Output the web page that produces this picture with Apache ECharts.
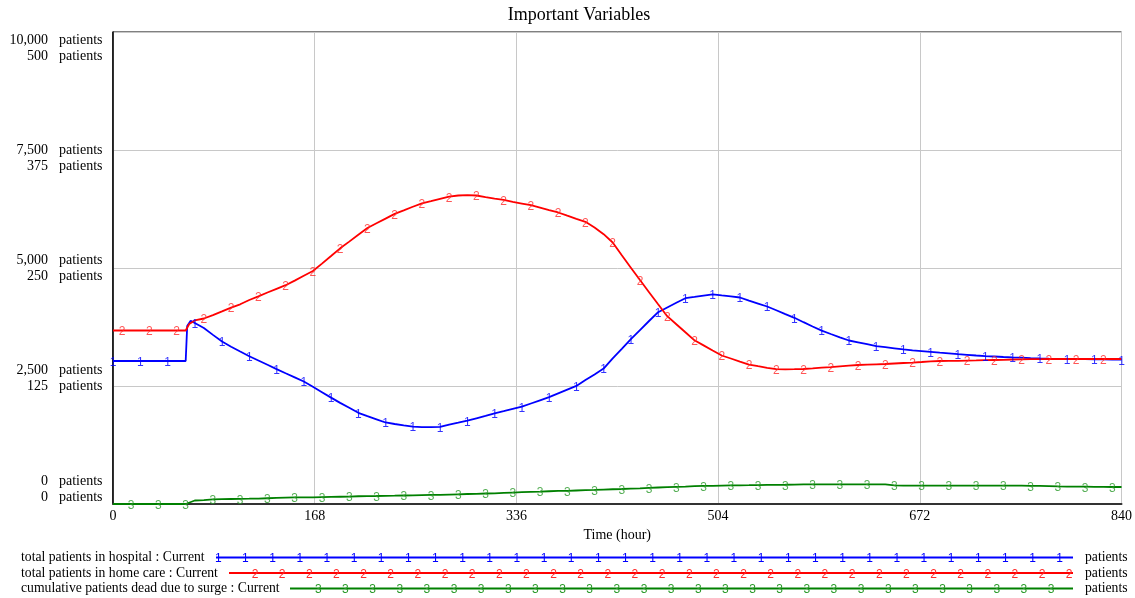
<!DOCTYPE html>
<html>
<head>
<meta charset="utf-8">
<script src="https://cdn.jsdelivr.net/npm/echarts@6/dist/echarts.min.js"></script>
<style>
  html, body { margin: 0; padding: 0; background: #fff; }
  #chart { width: 1135px; height: 598px; }
</style>
</head>
<body>
<div id="chart"></div>
<script>
// Simulation output, saved every 840/111 hours (112 saves over the run)
const hours = Array.from({ length: 112 }, (_, i) => +(i * 840 / 111).toFixed(3));

const hospital = [
  3030, 3030, 3030, 3030, 3030, 3030, 3030, 3030, 3030,
  3835, 3727, 3583, 3441, 3333, 3231, 3131, 3040, 2949, 2858,
  2769, 2682, 2595, 2483, 2369, 2254, 2142, 2038, 1932, 1860,
  1794, 1727, 1695, 1667, 1640, 1627, 1627, 1636, 1680, 1722,
  1765, 1816, 1866, 1919, 1966, 2015, 2061, 2129, 2197, 2265,
  2345, 2424, 2502, 2625, 2746, 2869, 3087, 3288, 3491, 3684,
  3877, 4063, 4163, 4263, 4360, 4388, 4417, 4443, 4419, 4398,
  4375, 4307, 4246, 4184, 4104, 4023, 3945, 3852, 3761, 3674,
  3602, 3532, 3464, 3426, 3386, 3343, 3322, 3299, 3275, 3256,
  3239, 3222, 3205, 3191, 3174, 3161, 3146, 3133, 3125, 3114,
  3106, 3100, 3091, 3085, 3080, 3076, 3072, 3070, 3068, 3066,
  3063, 3061, 3057
];

const homeCare = [
  3676, 3676, 3676, 3676, 3676, 3676, 3676, 3676, 3676,
  3888, 3930, 4002, 4080, 4161, 4231, 4322, 4400, 4481, 4559,
  4636, 4733, 4835, 4936, 5093, 5254, 5417, 5559, 5705, 5847,
  5947, 6047, 6146, 6220, 6297, 6371, 6417, 6464, 6510, 6536,
  6546, 6536, 6500, 6470, 6441, 6402, 6366, 6330, 6280, 6227,
  6176, 6108, 6042, 5979, 5858, 5716, 5540, 5269, 5006, 4744,
  4487, 4231, 3979, 3809, 3638, 3468, 3360, 3252, 3146, 3083,
  3015, 2953, 2919, 2886, 2858, 2854, 2856, 2860, 2873, 2888,
  2902, 2917, 2932, 2945, 2953, 2960, 2966, 2977, 2987, 2996,
  3008, 3021, 3030, 3032, 3034, 3038, 3042, 3047, 3051, 3055,
  3061, 3066, 3068, 3070, 3072, 3072, 3072, 3072, 3072, 3072,
  3072, 3072, 3072
];

const dead = [
  0, 0, 0, 0, 0, 0, 0, 0, 0,
  3.7, 4.2, 4.9, 5.1, 5.3, 5.5, 5.6, 5.8, 6.1, 6.4,
  6.7, 7.0, 7.0, 7.1, 7.3, 7.5, 7.7, 7.9, 8.2, 8.4,
  8.5, 8.7, 8.8, 9.0, 9.2, 9.4, 9.6, 9.7, 10.0, 10.3,
  10.6, 10.8, 11.1, 11.3, 11.7, 12.1, 12.5, 12.8, 13.1, 13.5,
  13.8, 14.0, 14.3, 14.6, 14.9, 15.3, 15.6, 15.9, 16.3, 16.6,
  17.1, 17.5, 17.9, 18.2, 18.5, 18.9, 19.1, 19.3, 19.5, 19.7,
  19.8, 19.9, 20.1, 20.2, 20.3, 20.4, 20.6, 20.7, 20.7, 20.8,
  20.8, 20.8, 20.8, 20.8, 20.8, 20.8, 20.8, 19.7, 19.5, 19.5,
  19.5, 19.5, 19.5, 19.5, 19.5, 19.5, 19.5, 19.5, 19.5, 19.5,
  19.5, 19.5, 19.3, 19.1, 18.9, 18.6, 18.5, 18.4, 18.3, 18.2,
  18.1, 18.0, 18.0
];

// Extra values around the surge step at t ~ 60 h
const hospitalStepHours = [61.8, 64.7];
const hospitalStepValues = [3771, 3883];
const homeCareStepHours = [63.5];
const homeCareStepValues = [3813];

const timeTicks = [0, 168, 336, 504, 672, 840];
const patientTickValues = [10000, 7500, 5000, 2500, 0];
const patientTickLabels = ['10,000', '7,500', '5,000', '2,500', '0'];
const deadTickLabels = ['500', '375', '250', '125', '0'];
const unitLabel = 'patients';

const seriesNames = [
  'total patients in hospital : Current',
  'total patients in home care : Current',
  'cumulative patients dead due to surge : Current'
];
const seriesColors = ['#0000ff', '#ff0000', '#008000'];
const markerColors = ['#0000ff', '#ff2a2a', '#2a9a2a'];
const markerDigits = ['1', '2', '3'];

const SERIF = '"Liberation Serif", "Times New Roman", serif';
const SANS = '"Liberation Sans", Arial, sans-serif';

function pairs(xs, ys) { return xs.map((x, i) => [x, ys[i]]); }
function withExtra(base, exH, exV) {
  return base.concat(pairs(exH, exV)).sort((a, b) => a[0] - b[0]);
}

const lineData = [
  withExtra(pairs(hours, hospital), hospitalStepHours, hospitalStepValues),
  withExtra(pairs(hours, homeCare), homeCareStepHours, homeCareStepValues),
  pairs(hours, dead)
];
// Each curve carries its digit on every third save, offset by one save per curve
const markerData = [hospital, homeCare, dead].map((vals, s) =>
  pairs(hours, vals).filter((_, i) => i % 3 === s && (s === 0 || i < 111))
);

const chart = echarts.init(document.getElementById('chart'), null, { renderer: 'canvas' });

const series = [];
for (let s = 0; s < 3; s++) {
  series.push({
    name: seriesNames[s],
    type: 'line',
    yAxisIndex: s === 2 ? 1 : 0,
    data: lineData[s],
    showSymbol: false,
    smooth: false,
    lineStyle: { color: seriesColors[s], width: 1.8 },
    z: 3,
    silent: true
  });
  series.push({
    name: seriesNames[s] + ' marks',
    type: 'scatter',
    yAxisIndex: s === 2 ? 1 : 0,
    data: markerData[s],
    symbolSize: 1,
    itemStyle: { color: 'transparent' },
    label: {
      show: true,
      position: 'inside',
      offset: [0, 1.5],
      formatter: markerDigits[s],
      color: markerColors[s],
      fontFamily: SANS,
      fontSize: 12
    },
    z: 4,
    silent: true
  });
}

chart.setOption({
  animation: false,
  backgroundColor: '#fff',
  title: {
    text: 'Important Variables',
    left: 574,
    top: 1,
    textAlign: 'center',
    textStyle: { fontFamily: SERIF, fontSize: 18, fontWeight: 'normal', color: '#000' }
  },
  grid: {
    left: 113, right: 13, top: 32, bottom: 94,
    show: true, borderColor: '#000', borderWidth: 1
  },
  xAxis: {
    type: 'value',
    min: timeTicks[0],
    max: timeTicks[timeTicks.length - 1],
    interval: timeTicks[1] - timeTicks[0],
    name: 'Time (hour)',
    nameLocation: 'middle',
    nameGap: 19,
    nameTextStyle: { fontFamily: SERIF, fontSize: 14, color: '#000' },
    axisLine: { lineStyle: { color: '#333', width: 2 } },
    axisTick: { show: false },
    axisLabel: { fontFamily: SERIF, fontSize: 14, color: '#000', margin: 5 },
    splitLine: { show: true, lineStyle: { color: '#c8c8c8', width: 1 } }
  },
  yAxis: [
    {
      type: 'value',
      min: 0, max: 10000, interval: 2500,
      axisLine: { show: true, lineStyle: { color: '#000', width: 1.5 } },
      axisTick: { show: false },
      axisLabel: { show: false },
      splitLine: { show: true, lineStyle: { color: '#c8c8c8', width: 1 } }
    },
    {
      type: 'value',
      min: 0, max: 500, interval: 125,
      show: false,
      splitLine: { show: false }
    }
  ],
  series: series
});

// Stacked left-hand scale labels: one pair per gridline, spread so the
// top and bottom pairs stay inside the plot frame
const graphics = [];
const yTop = chart.convertToPixel({ yAxisIndex: 0 }, patientTickValues[0]);
const yBot = chart.convertToPixel({ yAxisIndex: 0 }, patientTickValues[patientTickValues.length - 1]);
const firstY = yTop + 8, lastY = yBot - 23;
const n = patientTickLabels.length;
const lbl = { fontFamily: SERIF, fontSize: 14, fill: '#000', verticalAlign: 'middle' };
for (let k = 0; k < n; k++) {
  const y = firstY + k * (lastY - firstY) / (n - 1);
  [[patientTickLabels[k], y], [deadTickLabels[k], y + 16]].forEach(([t, yy]) => {
    graphics.push({ type: 'text', x: 48, y: yy, style: Object.assign({ text: t, align: 'right' }, lbl) });
    graphics.push({ type: 'text', x: 59, y: yy, style: Object.assign({ text: unitLabel, align: 'left' }, lbl) });
  });
}

// Key below the plot: name, sample line with digits, unit
const keyLbl = Object.assign({}, lbl, { fontSize: 13.7 });
const keyRows = [
  { y: 557.5, lineStart: 216, firstMark: 218.3, marks: 32 },
  { y: 573, lineStart: 229, firstMark: 255, marks: 31 },
  { y: 588.5, lineStart: 290, firstMark: 318.3, marks: 28 }
];
const keyLineEnd = 1073, markGap = 27.14;
keyRows.forEach((row, s) => {
  graphics.push({ type: 'text', x: 21, y: row.y, style: Object.assign({ text: seriesNames[s], align: 'left' }, keyLbl) });
  graphics.push({
    type: 'line',
    shape: { x1: row.lineStart, y1: row.y, x2: keyLineEnd, y2: row.y },
    style: { stroke: seriesColors[s], lineWidth: 1.8 }
  });
  for (let m = 0; m < row.marks; m++) {
    graphics.push({
      type: 'text', x: row.firstMark + m * markGap, y: row.y + 1.5,
      style: { text: markerDigits[s], fontFamily: SANS, fontSize: 12, fill: markerColors[s], align: 'center', verticalAlign: 'middle' }
    });
  }
  graphics.push({ type: 'text', x: 1085, y: row.y, style: Object.assign({ text: unitLabel, align: 'left' }, keyLbl) });
});

chart.setOption({ graphic: graphics });
</script>
</body>
</html>
